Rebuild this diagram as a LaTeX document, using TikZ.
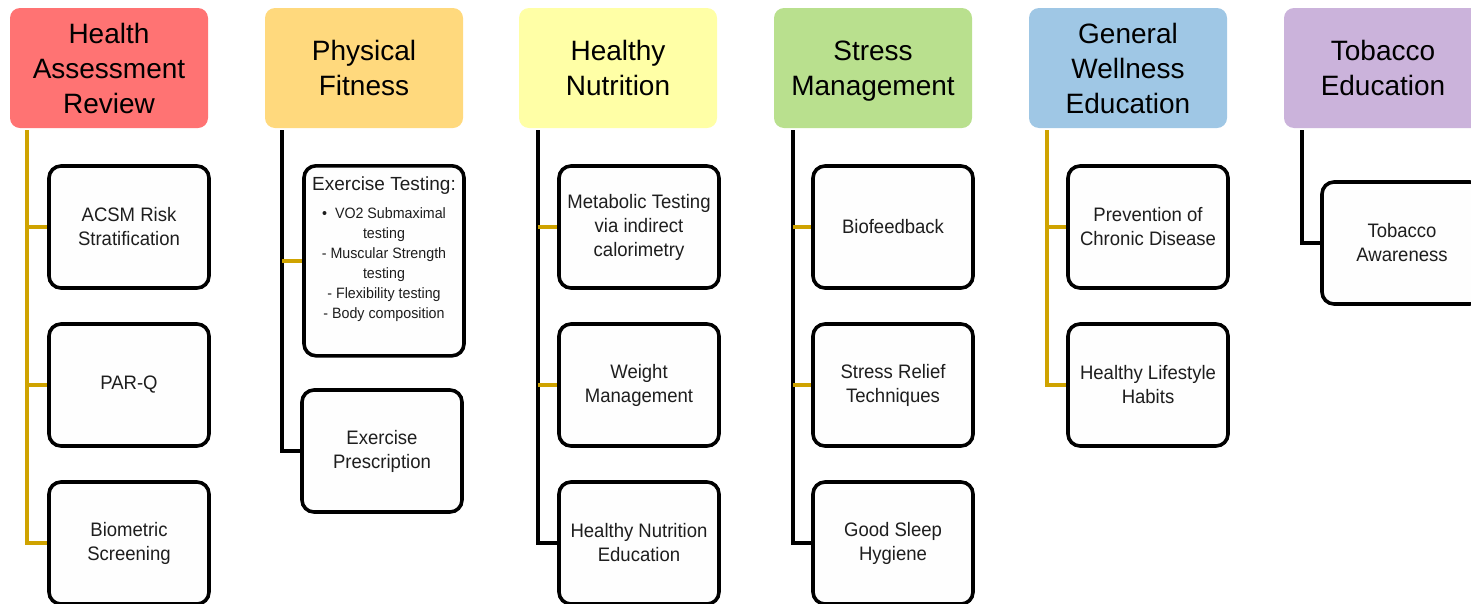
\documentclass[tikz,border=0pt]{standalone}
\usepackage{fontspec}
\setmainfont{Liberation Sans}
\newfontfamily\childfont[FakeStretch=0.95]{Liberation Sans}
\definecolor{hred}{HTML}{FF7373}
\definecolor{horange}{HTML}{FFD97D}
\definecolor{hyellow}{HTML}{FFFFA6}
\definecolor{hgreen}{HTML}{B9E08E}
\definecolor{hblue}{HTML}{9FC7E5}
\definecolor{hpurple}{HTML}{CBB3DB}
\definecolor{gold}{HTML}{CFA300}
\definecolor{txt}{HTML}{1E1E1E}
\definecolor{boxfill}{HTML}{FEFEFE}
\begin{document}
\begin{tikzpicture}[x=1pt,y=-1pt,
  head/.style={rounded corners=10pt, minimum width=198pt, minimum height=120pt, inner sep=0pt,
    align=center, font=\fontsize{28}{35}\selectfont, text=black},
  child/.style={draw=black, line width=3.6pt, fill=boxfill, rounded corners=12pt,
    minimum width=160pt, minimum height=122pt, inner sep=0pt, align=center,
    font=\childfont\fontsize{19.5}{24}\selectfont, text=txt},
  gline/.style={draw=gold, line width=4pt},
  bline/.style={draw=black, line width=4pt}]
\useasboundingbox (0,0) rectangle (1471,603);
\clip (0,0) rectangle (1471,603);
% headers
\node[head, fill=hred]    (h1) at (109,68)  {Health\\Assessment\\Review};
\node[head, fill=horange] (h2) at (364,68)  {Physical\\Fitness};
\node[head, fill=hyellow] (h3) at (618,68)  {Healthy\\Nutrition};
\node[head, fill=hgreen, text depth=0pt]  (h4) at (873,68)  {Stress\\Management};
\node[head, fill=hblue]   (h5) at (1128,68) {General\\Wellness\\Education};
\node[head, fill=hpurple] (h6) at (1383,68) {Tobacco\\Education};
% trunk tops
\coordinate (t1) at (27,130);
\coordinate (t2) at (282,130);
\coordinate (t3) at (538,130);
\coordinate (t4) at (793,130);
\coordinate (t5) at (1047,130);
\coordinate (t6) at (1302,130);
% column 1
\node[child] (c11) at (129,227) {ACSM Risk\\Stratification};
\node[child] (c12) at (129,385) {PAR-Q};
\node[child] (c13) at (129,543) {Biometric\\Screening};
% column 2
\node[child, minimum height=190pt, anchor=north] (c21) at (384,164) {};
\node[anchor=north, align=center, text=txt, inner sep=0pt, font=\fontsize{19}{24}\selectfont] (c21a) at (384,177)
  {Exercise Testing:};
\node[anchor=north, align=center, text=txt, inner sep=0pt, font=\childfont\fontsize{15}{20}\selectfont] (c21b) at (384,207)
  {\textbullet\ \ VO2 Submaximal\\testing\\- Muscular Strength\\testing\\- Flexibility testing\\- Body composition};
\node[child] (c22) at (382,451) {Exercise\\Prescription};
% column 3
\node[child] (c31) at (639,227) {Metabolic Testing\\via indirect\\calorimetry};
\node[child] (c32) at (639,385) {Weight\\Management};
\node[child] (c33) at (639,543) {Healthy Nutrition\\Education};
% column 4
\node[child] (c41) at (893,227) {Biofeedback};
\node[child] (c42) at (893,385) {Stress Relief\\Techniques};
\node[child] (c43) at (893,543) {Good Sleep\\Hygiene};
% column 5
\node[child] (c51) at (1148,227) {Prevention of\\Chronic Disease};
\node[child] (c52) at (1148,385) {Healthy Lifestyle\\Habits};
% column 6
\node[child] (c61) at (1402,243) {Tobacco\\Awareness};
% connectors column 1 (gold)
\draw[gline] (t1) |- (c11.west);
\draw[gline] (t1) |- (c12.west);
\draw[gline] (t1) |- (c13.west);
% column 2
\draw[bline] (t2) |- (c22.west);
\draw[gline] (t2 |- c21.west) -- (c21.west);
% column 3
\draw[bline] (t3) |- (c33.west);
\draw[gline] (t3 |- c31.west) -- (c31.west);
\draw[gline] (t3 |- c32.west) -- (c32.west);
% column 4
\draw[bline] (t4) |- (c43.west);
\draw[gline] (t4 |- c41.west) -- (c41.west);
\draw[gline] (t4 |- c42.west) -- (c42.west);
% column 5 (gold)
\draw[gline] (t5) |- (c51.west);
\draw[gline] (t5) |- (c52.west);
% column 6
\draw[bline] (t6) |- (c61.west);
\end{tikzpicture}
\end{document}
